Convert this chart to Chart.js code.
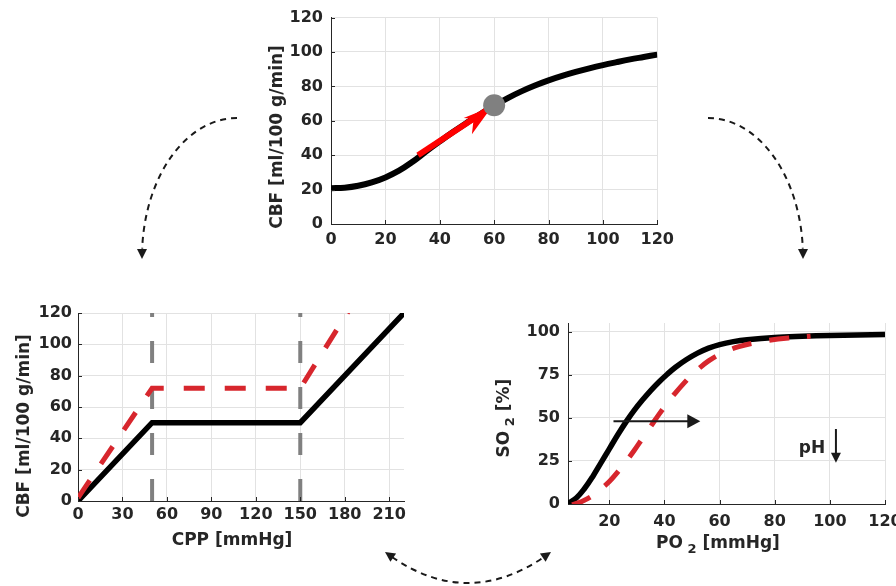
<!DOCTYPE html>
<html>
<head>
<meta charset="utf-8">
<title>CBF regulation and O2 dissociation</title>
<script src="https://cdn.jsdelivr.net/npm/chart.js@4.4.1/dist/chart.umd.min.js"></script>
<style>
  body { margin: 0; background: #fff; }
  #wrap { position: relative; width: 896px; height: 586px; overflow: hidden; }
  canvas { position: absolute; }
</style>
</head>
<body>
<div id="wrap">
  <canvas id="co2" width="420" height="260" style="left:260px;top:0px"></canvas>
  <canvas id="cpp" width="420" height="260" style="left:0px;top:295px"></canvas>
  <canvas id="odc" width="440" height="260" style="left:480px;top:300px"></canvas>
  <canvas id="links" width="896" height="586" style="left:0px;top:0px;pointer-events:none"></canvas>
</div>
<script>
// top panel: CBF curve
const topTicks = [0, 20, 40, 60, 80, 100, 120];
const topX   = [0, 5, 10, 15, 20, 25, 30, 35, 40, 45, 50, 55, 60, 65, 70, 75, 80, 85, 90, 95, 100, 105, 110, 115, 120];
const topCBF = [20.8, 21.1, 22.2, 24.2, 27.1, 31.0, 36.2, 42.2, 48.0, 53.6, 58.9, 64.0, 68.8, 73.2, 77.1, 80.5, 83.5, 86.1, 88.4, 90.5, 92.4, 94.1, 95.7, 97.1, 98.5];
const pushX = [32, 58];
const pushY = [40, 67];
const pointX = [60];
const pointY = [69];

// bottom left: autoregulation
const cppTicks = [0, 30, 60, 90, 120, 150, 180, 210];
const cbfTicks = [0, 20, 40, 60, 80, 100, 120];
const cppX = [0, 50, 150, 220];
const cbfNormal = [0, 50, 50, 120];
const cppShiftX = [0, 50, 150, 185];
const cbfShift = [2, 72, 72, 125];
const limitCPP = [50, 150];

// bottom right: oxygen dissociation
const po2Ticks = [20, 40, 60, 80, 100, 120];
const so2Ticks = [0, 25, 50, 75, 100];
const po2X = [5, 8, 11, 14, 17, 20, 23, 26, 29, 32, 35, 38, 41, 44, 48, 52, 56, 60, 65, 70, 80, 90, 100, 110, 120];
const so2Normal = [0.3, 3.5, 9, 16, 24, 32, 40, 47.5, 54.3, 60.3, 65.8, 70.8, 75.3, 79.3, 83.8, 87.5, 90.4, 92.5, 94.2, 95.3, 96.6, 97.3, 97.8, 98.1, 98.4];
const po2ShiftX = [6.5, 10, 14, 17, 20, 23, 26, 29, 32, 35, 38, 41, 44, 47, 50, 53, 56, 59, 63, 67, 72, 78, 85, 93];
const so2Shift = [-0.5, 1.5, 5, 8.8, 13, 18.5, 24.5, 31, 38, 45, 52, 58.5, 64.5, 70, 75, 79.3, 83, 86, 89, 91.3, 93.3, 95, 96.3, 97.3];
const shiftArrowX = [21.5, 53];
const shiftArrowY = 48;
const phX = 93.5, phY = 32;
const phArrowX = 102.2;
const phArrowY = [43.5, 24];

const FONT = 'DejaVu Sans';
const INK = '#262626';
const GRID = '#e2e2e2';
const RED = '#d7262d';

function pts(xs, ys) { return xs.map((x, i) => ({ x: x, y: ys[i] })); }

function linScale(min, max, ticks, pad, size, horizontal) {
  return {
    type: 'linear', min: min, max: max,
    afterBuildTicks: s => { s.ticks = ticks.map(v => ({ value: v })); },
    afterFit: s => { if (horizontal) s.height = size; else s.width = size; },
    grid: { color: GRID, lineWidth: 1, drawTicks: false },
    border: { color: INK, width: 1 },
    ticks: { padding: pad, color: INK, autoSkip: false, maxRotation: 0,
             font: { family: FONT, size: 16, weight: 'bold' } }
  };
}

function baseOptions(padding, xs, ys) {
  return {
    responsive: false, animation: false, events: [],
    layout: { padding: padding },
    plugins: { legend: { display: false }, tooltip: { enabled: false } },
    scales: { x: xs, y: ys }
  };
}

// small ticks pointing into the plot, like the original
function inwardTicks(chart) {
  const ctx = chart.ctx, a = chart.chartArea, x = chart.scales.x, y = chart.scales.y;
  ctx.save();
  ctx.strokeStyle = INK; ctx.lineWidth = 1;
  ctx.beginPath();
  x.ticks.forEach(t => { const p = Math.round(x.getPixelForValue(t.value)) + 0.5; ctx.moveTo(p, a.bottom); ctx.lineTo(p, a.bottom - 4); });
  y.ticks.forEach(t => { const p = Math.round(y.getPixelForValue(t.value)) + 0.5; ctx.moveTo(a.left, p); ctx.lineTo(a.left + 4, p); });
  ctx.stroke();
  ctx.restore();
}

// parts: [text, isSubscript]
function label(ctx, parts, cx, cy, vertical) {
  ctx.save();
  ctx.translate(cx, cy);
  if (vertical) ctx.rotate(-Math.PI / 2);
  ctx.fillStyle = INK; ctx.textBaseline = 'middle'; ctx.textAlign = 'left';
  const fonts = parts.map(p => 'bold ' + (p[1] ? 13 : 17) + 'px "' + FONT + '"');
  let w = 0;
  parts.forEach((p, i) => { ctx.font = fonts[i]; w += ctx.measureText(p[0]).width; });
  let x = -w / 2;
  parts.forEach((p, i) => {
    ctx.font = fonts[i];
    ctx.fillText(p[0], x, p[1] ? 6 : 0);
    x += ctx.measureText(p[0]).width;
  });
  ctx.restore();
}

function head(ctx, tx, ty, ux, uy, len, half) {
  ctx.beginPath();
  ctx.moveTo(tx, ty);
  ctx.lineTo(tx - ux * len - uy * half, ty - uy * len + ux * half);
  ctx.lineTo(tx - ux * len + uy * half, ty - uy * len - ux * half);
  ctx.closePath();
  ctx.fill();
}

// ---------- top chart
new Chart(document.getElementById('co2'), {
  type: 'line',
  data: { datasets: [
    { data: pts(pointX, pointY), showLine: false, pointRadius: 11, pointBorderWidth: 0,
      pointBackgroundColor: '#808080', order: 0 },
    { data: pts(pushX, pushY), borderColor: '#ff0000', borderWidth: 6, pointRadius: 0, order: 1 },
    { data: pts(topX, topCBF), borderColor: '#000', borderWidth: 6, pointRadius: 0,
      tension: 0.4, order: 2 }
  ] },
  options: baseOptions({ left: 0, top: 16, right: 20, bottom: 0 },
    linScale(0, 120, topTicks, 6, 36, true), linScale(0, 120, topTicks, 8, 71, false)),
  plugins: [{
    id: 'co2Extras',
    afterDatasetDraw(chart, args) {
      if (args.index !== 1) return;
      const x = chart.scales.x, y = chart.scales.y, ctx = chart.ctx;
      const x0 = x.getPixelForValue(pushX[0]), y0 = y.getPixelForValue(pushY[0]);
      const x1 = x.getPixelForValue(pushX[1]), y1 = y.getPixelForValue(pushY[1]);
      const d = Math.hypot(x1 - x0, y1 - y0), ux = (x1 - x0) / d, uy = (y1 - y0) / d;
      const tx = x1 + ux * 4, ty = y1 + uy * 4;
      ctx.save();
      ctx.fillStyle = '#ff0000';
      ctx.beginPath();
      ctx.moveTo(tx, ty);
      ctx.lineTo(tx - ux * 32 - uy * 12, ty - uy * 32 + ux * 12);
      ctx.lineTo(tx - ux * 22, ty - uy * 22);
      ctx.lineTo(tx - ux * 30 + uy * 6, ty - uy * 30 - ux * 6);
      ctx.closePath();
      ctx.fill();
      ctx.restore();
    },
    afterDraw(chart) {
      inwardTicks(chart);
      label(chart.ctx, [['CBF [ml/100 g/min]', false]], 18, 137, true);
    }
  }]
});

// ---------- bottom left chart
new Chart(document.getElementById('cpp'), {
  type: 'line',
  data: { datasets: [
    { data: pts(cppShiftX, cbfShift), borderColor: RED, borderWidth: 5, borderDash: [21, 20],
      pointRadius: 0, clip: 0, order: 0 },
    { data: pts(cppX, cbfNormal), borderColor: '#000', borderWidth: 5.5, pointRadius: 0, order: 1 },
    { data: pts([limitCPP[0], limitCPP[0]], [0, 120]), borderColor: '#808080', borderWidth: 4,
      borderDash: [22, 24], pointRadius: 0, order: 2 },
    { data: pts([limitCPP[1], limitCPP[1]], [0, 120]), borderColor: '#808080', borderWidth: 4,
      borderDash: [22, 24], pointRadius: 0, order: 2 }
  ] },
  options: baseOptions({ left: 0, top: 18, right: 16, bottom: 0 },
    linScale(0, 220, cppTicks, 4, 54, true), linScale(0, 120, cbfTicks, 6, 78, false)),
  plugins: [{
    id: 'cppExtras',
    afterDraw(chart) {
      inwardTicks(chart);
      label(chart.ctx, [['CBF [ml/100 g/min]', false]], 25, 131, true);
      label(chart.ctx, [['CPP [mmHg]', false]], 232, 246, false);
    }
  }]
});

// ---------- bottom right chart
new Chart(document.getElementById('odc'), {
  type: 'line',
  data: { datasets: [
    { data: pts(po2ShiftX, so2Shift), borderColor: RED, borderWidth: 5, borderDash: [20, 18],
      pointRadius: 0, tension: 0.4, order: 0 },
    { data: pts(po2X, so2Normal), borderColor: '#000', borderWidth: 5.5, pointRadius: 0,
      tension: 0.4, order: 1 }
  ] },
  options: baseOptions({ left: 0, top: 23, right: 35, bottom: 0 },
    linScale(5, 120, po2Ticks, 8, 56, true), linScale(0, 105, so2Ticks, 8, 88, false)),
  plugins: [{
    id: 'odcExtras',
    afterDraw(chart) {
      const ctx = chart.ctx, x = chart.scales.x, y = chart.scales.y;
      inwardTicks(chart);
      ctx.save();
      ctx.strokeStyle = '#1a1a1a'; ctx.fillStyle = '#1a1a1a'; ctx.lineWidth = 2;
      // right shift arrow
      const ax0 = x.getPixelForValue(shiftArrowX[0]), ax1 = x.getPixelForValue(shiftArrowX[1]);
      const ay = y.getPixelForValue(shiftArrowY);
      ctx.beginPath(); ctx.moveTo(ax0, ay); ctx.lineTo(ax1 - 10, ay); ctx.stroke();
      head(ctx, ax1, ay, 1, 0, 13, 7);
      // pH down
      const px = x.getPixelForValue(phArrowX);
      const py0 = y.getPixelForValue(phArrowY[0]), py1 = y.getPixelForValue(phArrowY[1]);
      ctx.beginPath(); ctx.moveTo(px, py0); ctx.lineTo(px, py1 - 8); ctx.stroke();
      head(ctx, px, py1, 0, 1, 10, 5);
      ctx.restore();
      label(ctx, [['pH', false]], x.getPixelForValue(phX), y.getPixelForValue(phY), false);
      label(ctx, [['SO', false], [' 2', true], [' [%]', false]], 25, 118, true);
      label(ctx, [['PO', false], [' 2', true], [' [mmHg]', false]], 238, 244, false);
    }
  }]
});

// ---------- dashed links between the panels
const lk = document.getElementById('links').getContext('2d');
lk.strokeStyle = '#1a1a1a';
lk.fillStyle = '#1a1a1a';
lk.lineWidth = 2;
lk.setLineDash([6, 5]);
lk.beginPath(); lk.ellipse(237, 257, 95, 139, 0, -Math.PI / 2, -Math.PI + 0.06, true); lk.stroke();
lk.beginPath(); lk.ellipse(708, 257, 95, 139, 0, -Math.PI / 2, -0.06, false); lk.stroke();
lk.beginPath(); lk.moveTo(392, 557); lk.quadraticCurveTo(468, 609, 544, 557); lk.stroke();
lk.setLineDash([]);
head(lk, 142, 259, 0, 1, 10, 5);
head(lk, 803, 259, 0, 1, 10, 5);
head(lk, 385, 552, -0.825, -0.565, 10, 5);
head(lk, 551, 552, 0.825, -0.565, 10, 5);
</script>
</body>
</html>
